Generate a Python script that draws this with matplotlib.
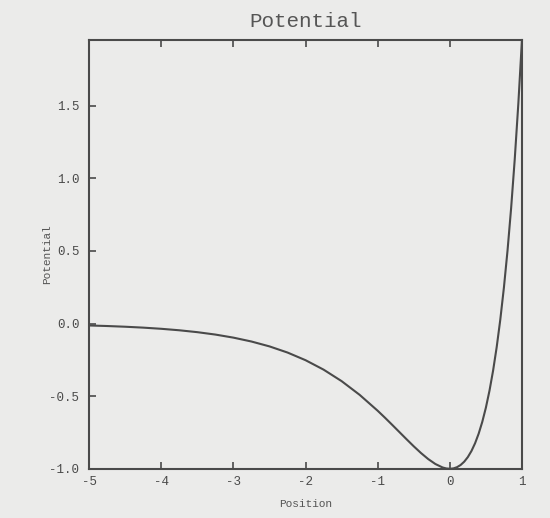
import numpy as np
import matplotlib
matplotlib.use('Agg')
import matplotlib.pyplot as plt

# potential curve sampled along position
position = [-5.0, -4.75, -4.5, -4.25, -4.0, -3.75, -3.5, -3.25, -3.0, -2.75,
            -2.5, -2.25, -2.0, -1.75, -1.5, -1.25, -1.0, -0.9, -0.8, -0.7,
            -0.6, -0.5, -0.4, -0.3, -0.2, -0.1, -0.05, 0.0, 0.05, 0.1,
            0.15, 0.2, 0.25, 0.3, 0.35, 0.4, 0.45, 0.5, 0.55, 0.6,
            0.65, 0.7, 0.75, 0.8, 0.85, 0.9, 0.95, 1.0]
potential = [-0.0134, -0.0172, -0.0221, -0.0283, -0.0363, -0.0465, -0.0595, -0.0760, -0.0971, -0.1238,
             -0.1574, -0.1997, -0.2524, -0.3174, -0.3965, -0.4909, -0.6004, -0.6478, -0.6968, -0.7466,
             -0.7964, -0.8452, -0.8913, -0.9328, -0.9671, -0.9909, -0.9976, -1.0, -0.9974, -0.9889,
             -0.9738, -0.9510, -0.9193, -0.8776, -0.8244, -0.7581, -0.6770, -0.5792, -0.4623, -0.3241,
             -0.1618, 0.0277, 0.2477, 0.5020, 0.7947, 1.1304, 1.5145, 1.9525]

xticks = [-5, -4, -3, -2, -1, 0, 1]
yticks = [-1.0, -0.5, 0.0, 0.5, 1.0, 1.5]

ink = '#4a4a4a'
plt.rcParams['font.family'] = ['Liberation Mono', 'DejaVu Sans Mono']

fig = plt.figure(figsize=(5.5, 5.18), dpi=100, facecolor='#ebebea')
ax = fig.add_axes([0.162, 0.095, 0.787, 0.828])
ax.set_facecolor('#ebebea')

ax.plot(position, potential, color=ink, lw=1.5)

ax.set_xlim(-5, 1)
ax.set_ylim(-1.0, max(potential))
ax.set_xticks(xticks)
ax.set_xticklabels([str(t) for t in xticks])
ax.set_yticks(yticks)
ax.set_yticklabels(['%.1f' % t for t in yticks])

ax.tick_params(axis='x', direction='in', top=True, length=5, width=1.2,
               colors=ink, labelsize=9, pad=5)
ax.tick_params(axis='y', direction='in', length=5, width=1.2,
               colors=ink, labelsize=9, pad=7)
for s in ax.spines.values():
    s.set_color(ink)
    s.set_linewidth(1.5)

ax.set_title('Potential', fontsize=15, color='#555555', pad=9)
ax.set_xlabel('Position', fontsize=8, color='#555555', labelpad=8)
ax.set_ylabel('Potential', fontsize=8, color='#555555', labelpad=-2)

fig.savefig('out.png', dpi=100, facecolor=fig.get_facecolor())
